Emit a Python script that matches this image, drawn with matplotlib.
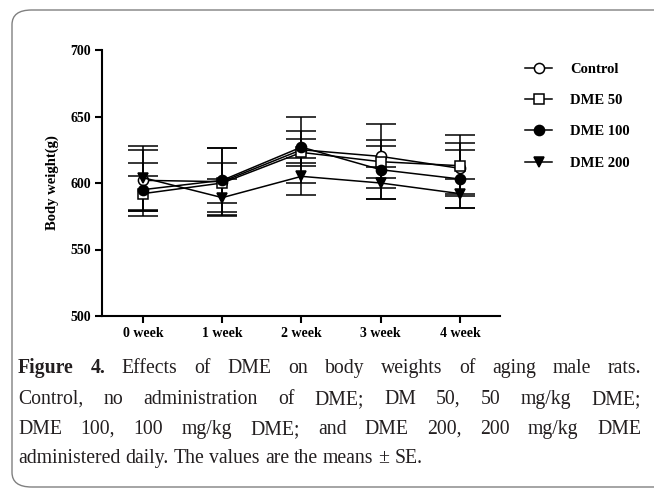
import matplotlib
matplotlib.use("Agg")
import matplotlib.pyplot as plt
from matplotlib.patches import FancyBboxPatch
from matplotlib.lines import Line2D

weeks = ["0 week", "1 week", "2 week", "3 week", "4 week"]
series_names = ["Control", "DME 50", "DME 100", "DME 200"]
control = [602, 601, 625, 620, 611]
control_se = [23, 25, 25, 24, 19]
dme50 = [592, 600, 623, 616, 613]
dme50_se = [13, 15, 10, 12, 23]
dme100 = [595, 602, 627, 610, 603]
dme100_se = [20, 24, 12, 22, 22]
dme200 = [604, 589, 605, 600, 592]
dme200_se = [24, 14, 14, 12, 11]
y_ticks = [500, 550, 600, 650, 700]

caption_lines = [
    ["Figure", "4.", "Effects", "of", "DME", "on", "body", "weights", "of", "aging", "male", "rats."],
    ["Control,", "no", "administration", "of", "DME;", "DM", "50,", "50", "mg/kg", "DME;"],
    ["DME", "100,", "100", "mg/kg", "DME;", "and", "DME", "200,", "200", "mg/kg", "DME"],
    ["administered", "daily.", "The", "values", "are", "the", "means", "\u00b1", "SE."],
]

W, H = 654, 488
fig = plt.figure(figsize=(W / 100, H / 100), dpi=100)

def fx(px):
    return px / W

def fy(py):
    return 1 - py / H

# border
box = FancyBboxPatch((fx(12), fy(487)), fx(700 - 12), (487 - 10) / H,
                     boxstyle="round,pad=0,rounding_size=0.03",
                     transform=fig.transFigure, facecolor="none",
                     edgecolor="#808080", linewidth=1.0, clip_on=False)
fig.patches.append(box)

FS = 10
ax = fig.add_axes([fx(102), fy(316), fx(500 - 102), (316 - 50) / H])
x = list(range(len(weeks)))
styles = [
    (control, control_se, "o", "white"),
    (dme50, dme50_se, "s", "white"),
    (dme100, dme100_se, "o", "black"),
    (dme200, dme200_se, "v", "black"),
]
for (vals, se, m, fc), name in zip(styles, series_names):
    ax.errorbar(x, vals, yerr=se, color="black", lw=1.1, marker=m, ms=7.3,
                mfc=fc, mec="black", mew=1.1, capsize=11, capthick=1.1,
                elinewidth=1.1, label=name)

ax.set_xlim(-0.517, 4.505)
ax.set_ylim(500, 700)
ax.set_yticks(y_ticks)
ax.set_xticks(x)
ax.set_xticklabels(weeks)
for s in ["top", "right"]:
    ax.spines[s].set_visible(False)
for s in ["left", "bottom"]:
    ax.spines[s].set_linewidth(1.5)
ax.tick_params(direction="out", length=5, width=1.5, pad=3)
for lab in ax.get_xticklabels() + ax.get_yticklabels():
    lab.set_fontfamily("Liberation Serif")
    lab.set_fontweight("bold")
    lab.set_fontsize(FS)
ax.set_ylabel("Body weight(g)", fontfamily="Liberation Serif", fontweight="bold",
              fontsize=10.5)
ax.yaxis.set_label_coords(fx(59 - 102) / fx(500 - 102), 0.5)

LFS = 10.5
handles = [
    Line2D([], [], color="black", lw=1.1, marker=m, ms=7.3, mfc=fc, mec="black", mew=1.1)
    for (_, _, m, fc) in styles
]
leg = fig.legend(handles, series_names, loc="upper left",
                 bbox_to_anchor=(fx(512), fy(49.5)), frameon=False,
                 prop={"family": "Liberation Serif", "weight": "bold", "size": LFS},
                 handlelength=1.85, labelspacing=1.24, handletextpad=1.25)

# caption
tc = "#231f20"
fig.canvas.draw()
r = fig.canvas.get_renderer()
base = 10.0

def wwidth(word, size, bold=False):
    t = fig.text(0, 0, word, fontsize=size, family="Liberation Serif",
                 fontweight="bold" if bold else "normal")
    w = t.get_window_extent(r).width
    t.remove()
    return w

x0, x1 = 18, 641
sp = wwidth("a a", base) - 2 * wwidth("a", base)
nat1 = sum(wwidth(w, base, i < 2) for i, w in enumerate(caption_lines[0])) + \
    sp * 1.3 * (len(caption_lines[0]) - 1)
size = min(14.2, base * (x1 - x0) / nat1)

baselines = [373, 404, 434, 463]
for i, words in enumerate(caption_lines):
    bolds = [i == 0 and j < 2 for j in range(len(words))]
    widths = [wwidth(w, size, b) for w, b in zip(words, bolds)]
    if i < 3:
        gap = (x1 - x0 - sum(widths)) / (len(words) - 1)
    else:
        gap = sp * size / base
    cx = x0
    for w, b, wd in zip(words, bolds, widths):
        fig.text(fx(cx), fy(baselines[i]), w, fontsize=size, family="Liberation Serif",
                 fontweight="bold" if b else "normal", color=tc, va="baseline")
        cx += wd + gap

fig.savefig("out.png", dpi=100)
